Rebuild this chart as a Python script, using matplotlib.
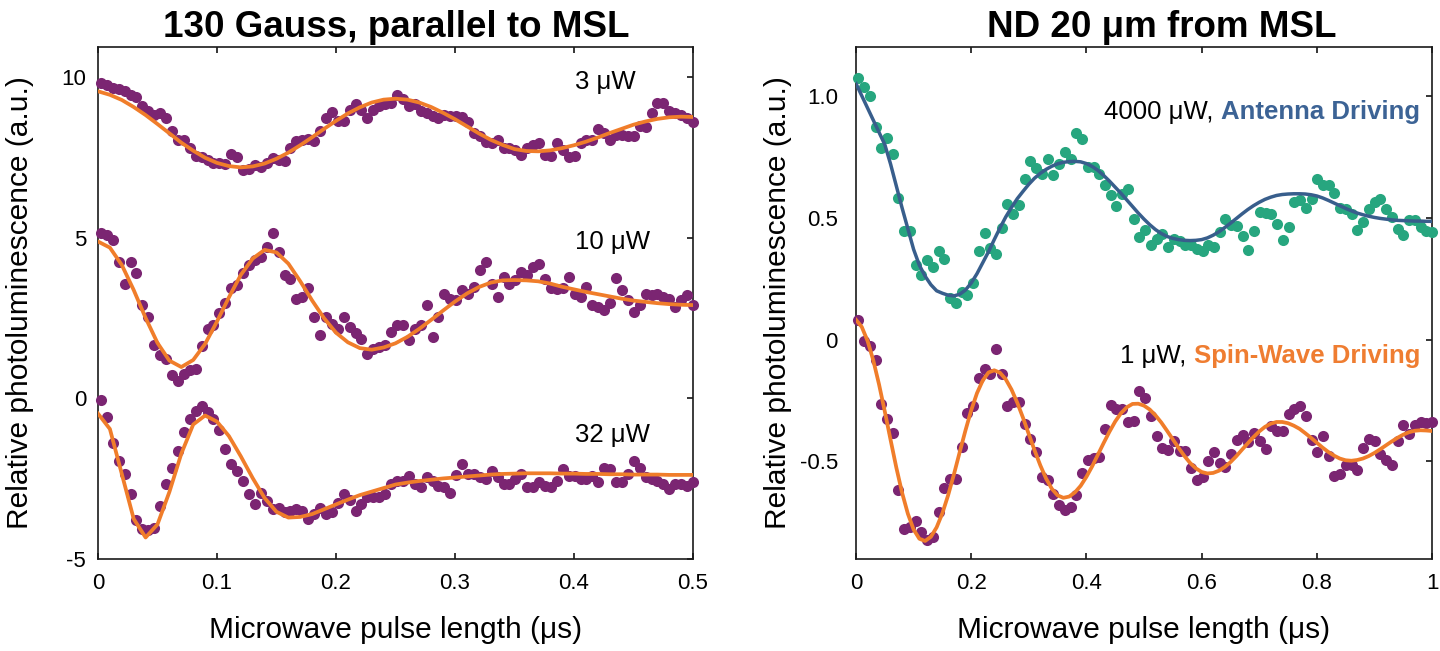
import numpy as np
import matplotlib
matplotlib.use("Agg")
from matplotlib import pyplot as plt

plt.rcParams['font.family'] = ['Liberation Sans', 'DejaVu Sans']
plt.rcParams['axes.unicode_minus'] = False

PURPLE = '#7b2572'
ORANGE = '#f07d2a'
GREEN = '#27a67f'
BLUE = '#385e8c'
BLUE_TXT = '#3c6395'
ORANGE_TXT = '#ef7d31'
MU = '\u03bc'

# ---------------- left panel: 130 Gauss, parallel to MSL ----------------
t_left = np.linspace(0.0025, 0.5, 101)
t_left_fit = np.linspace(0.0, 0.5, 51)

pl_3uw = [9.83, 9.76, 9.68, 9.63, 9.57, 9.47, 9.40, 9.10, 8.95, 8.84,
          8.88, 8.74, 8.32, 8.06, 8.05, 7.80, 7.56, 7.52, 7.42, 7.35,
          7.33, 7.31, 7.63, 7.52, 7.13, 7.15, 7.28, 7.21, 7.35, 7.49,
          7.42, 7.39, 7.80, 8.01, 8.06, 8.08, 8.01, 8.32, 8.74, 8.92,
          8.64, 8.65, 9.00, 9.16, 8.99, 8.74, 9.00, 9.10, 9.16, 9.21,
          9.45, 9.33, 9.10, 9.16, 8.95, 8.88, 8.79, 8.74, 8.84, 8.79,
          8.81, 8.77, 8.60, 8.27, 8.17, 7.98, 7.96, 8.06, 7.80, 7.80,
          7.75, 7.59, 7.80, 7.91, 7.96, 7.59, 7.56, 7.96, 7.75, 7.52,
          7.56, 7.96, 8.06, 8.06, 8.40, 8.27, 8.06, 8.22, 8.22, 8.17,
          8.19, 8.50, 8.46, 8.88, 9.21, 9.21, 8.95, 8.90, 8.84, 8.74, 8.60]
fit_3uw = [9.57, 9.46, 9.30, 9.08, 8.83, 8.55, 8.26, 7.97, 7.72, 7.50,
           7.34, 7.24, 7.20, 7.23, 7.32, 7.47, 7.66, 7.89, 8.14, 8.40,
           8.65, 8.88, 9.07, 9.22, 9.31, 9.34, 9.31, 9.22, 9.08, 8.90,
           8.70, 8.48, 8.26, 8.06, 7.90, 7.77, 7.71, 7.70, 7.73, 7.80,
           7.89, 8.00, 8.13, 8.27, 8.40, 8.53, 8.63, 8.71, 8.76, 8.78, 8.77]

pl_10uw = [5.17, 5.09, 4.94, 4.26, 3.58, 4.26, 3.90, 2.91, 2.54, 1.66,
           1.34, 1.24, 0.72, 0.56, 0.77, 0.88, 0.93, 1.63, 2.18, 2.28,
           2.65, 2.96, 3.43, 3.53, 3.90, 4.16, 4.31, 4.42, 4.73, 5.17,
           4.57, 3.84, 3.71, 3.11, 3.17, 3.43, 2.54, 1.97, 2.54, 2.33,
           2.15, 2.54, 2.23, 2.05, 1.86, 1.40, 1.55, 1.60, 1.66, 2.07,
           2.28, 2.28, 1.81, 2.18, 2.28, 2.91, 1.92, 2.54, 3.27, 3.11,
           3.06, 3.38, 3.27, 3.48, 4.00, 4.26, 3.58, 3.17, 3.79, 3.58,
           3.69, 3.95, 3.84, 4.10, 4.19, 3.71, 3.43, 3.40, 3.43, 3.77,
           3.27, 3.17, 3.48, 2.91, 2.85, 2.75, 2.96, 3.74, 3.38, 3.06,
           2.70, 2.91, 3.27, 3.22, 3.27, 3.17, 3.11, 2.85, 3.06, 3.22, 2.91]
fit_10uw = [4.89, 4.70, 4.16, 3.38, 2.51, 1.73, 1.18, 0.98, 1.20, 1.70,
            2.40, 3.15, 3.85, 4.36, 4.63, 4.55, 4.20, 3.65, 3.05, 2.50,
            2.05, 1.75, 1.57, 1.52, 1.59, 1.72, 1.92, 2.17, 2.45, 2.74,
            3.02, 3.27, 3.47, 3.61, 3.68, 3.69, 3.68, 3.65, 3.58, 3.48,
            3.40, 3.32, 3.25, 3.18, 3.11, 3.05, 3.01, 2.97, 2.94, 2.92, 2.91]

pl_32uw = [-0.06, -0.58, -1.40, -1.94, -2.35, -2.98, -3.79, -4.07, -4.10, -4.02,
           -3.34, -2.67, -2.15, -1.63, -1.05, -0.64, -0.38, -0.22, -0.43, -0.64,
           -0.98, -1.57, -2.04, -2.25, -2.56, -2.98, -3.29, -2.93, -3.19, -3.45,
           -3.40, -3.55, -3.50, -3.45, -3.50, -3.76, -3.60, -3.40, -3.60, -3.55,
           -3.24, -2.98, -3.15, -3.50, -3.29, -3.08, -3.08, -3.08, -2.98, -2.67,
           -2.56, -2.56, -2.41, -2.67, -2.77, -2.46, -2.56, -2.72, -2.77, -2.93,
           -2.38, -2.04, -2.35, -2.35, -2.46, -2.51, -2.25, -2.46, -2.67, -2.67,
           -2.51, -2.35, -2.77, -2.77, -2.61, -2.72, -2.77, -2.56, -2.20, -2.41,
           -2.41, -2.51, -2.51, -2.41, -2.61, -2.15, -2.20, -2.61, -2.61, -2.35,
           -1.94, -2.15, -2.46, -2.51, -2.56, -2.67, -2.82, -2.67, -2.67, -2.72, -2.60]
fit_32uw = [-0.47, -0.95, -2.35, -3.75, -4.33, -3.92, -2.91, -1.72, -0.81, -0.53,
            -0.72, -1.17, -1.80, -2.48, -3.10, -3.53, -3.71, -3.69, -3.60, -3.45,
            -3.30, -3.15, -3.01, -2.90, -2.79, -2.68, -2.62, -2.57, -2.53, -2.49,
            -2.46, -2.43, -2.40, -2.37, -2.35, -2.34, -2.33, -2.33, -2.33, -2.34,
            -2.34, -2.35, -2.35, -2.36, -2.36, -2.37, -2.37, -2.37, -2.38, -2.38, -2.38]

# ---------------- right panel: ND 20 um from MSL ----------------
t_right = np.linspace(0.004, 1.0, 101)
t_right_fit = np.linspace(0.0, 1.0, 101)

pl_antenna = [1.072, 1.036, 0.999, 0.872, 0.786, 0.826, 0.762, 0.581, 0.444, 0.444,
              0.305, 0.264, 0.325, 0.298, 0.362, 0.329, 0.171, 0.150, 0.195, 0.182,
              0.230, 0.362, 0.439, 0.376, 0.352, 0.459, 0.555, 0.516, 0.553, 0.657,
              0.731, 0.704, 0.680, 0.742, 0.676, 0.721, 0.769, 0.742, 0.847, 0.821,
              0.708, 0.708, 0.680, 0.633, 0.592, 0.548, 0.598, 0.619, 0.496, 0.421,
              0.448, 0.389, 0.414, 0.434, 0.380, 0.414, 0.403, 0.387, 0.389, 0.373,
              0.362, 0.389, 0.380, 0.441, 0.496, 0.469, 0.466, 0.425, 0.366, 0.444,
              0.523, 0.520, 0.516, 0.475, 0.407, 0.462, 0.564, 0.571, 0.540, 0.578,
              0.660, 0.635, 0.635, 0.602, 0.540, 0.537, 0.516, 0.448, 0.482, 0.537,
              0.564, 0.575, 0.534, 0.503, 0.452, 0.428, 0.489, 0.489, 0.462, 0.444, 0.440]
fit_antenna = [1.05, 1.00, 0.95, 0.90, 0.85, 0.80, 0.72, 0.63, 0.54, 0.455,
               0.37, 0.305, 0.26, 0.225, 0.20, 0.19, 0.182, 0.179, 0.186, 0.203,
               0.232, 0.27, 0.315, 0.36, 0.41, 0.458, 0.503, 0.542, 0.578, 0.608,
               0.637, 0.662, 0.682, 0.698, 0.711, 0.721, 0.727, 0.730, 0.731, 0.729,
               0.722, 0.710, 0.694, 0.673, 0.650, 0.625, 0.600, 0.573, 0.546, 0.519,
               0.494, 0.471, 0.451, 0.435, 0.423, 0.415, 0.410, 0.407, 0.406, 0.407,
               0.410, 0.417, 0.428, 0.442, 0.459, 0.477, 0.496, 0.515, 0.533, 0.549,
               0.563, 0.575, 0.584, 0.591, 0.595, 0.597, 0.598, 0.598, 0.597, 0.594,
               0.589, 0.581, 0.571, 0.560, 0.549, 0.538, 0.528, 0.519, 0.512, 0.506,
               0.501, 0.497, 0.494, 0.491, 0.489, 0.488, 0.487, 0.486, 0.486, 0.485, 0.485]

pl_spinwave = [0.079, -0.007, -0.026, -0.085, -0.266, -0.324, -0.383, -0.617, -0.777, -0.770,
               -0.745, -0.788, -0.822, -0.809, -0.706, -0.608, -0.570, -0.570, -0.440, -0.303,
               -0.272, -0.157, -0.119, -0.143, -0.040, -0.143, -0.272, -0.258, -0.255, -0.348,
               -0.406, -0.463, -0.563, -0.577, -0.635, -0.679, -0.699, -0.686, -0.638, -0.549,
               -0.495, -0.485, -0.481, -0.367, -0.269, -0.283, -0.283, -0.340, -0.335, -0.212,
               -0.239, -0.313, -0.395, -0.444, -0.454, -0.417, -0.458, -0.458, -0.526, -0.577,
               -0.563, -0.499, -0.463, -0.508, -0.522, -0.471, -0.413, -0.392, -0.422, -0.385,
               -0.417, -0.449, -0.354, -0.376, -0.376, -0.307, -0.283, -0.272, -0.313, -0.413,
               -0.463, -0.395, -0.477, -0.559, -0.553, -0.515, -0.515, -0.536, -0.444, -0.406,
               -0.417, -0.471, -0.495, -0.515, -0.417, -0.351, -0.389, -0.351, -0.337, -0.344, -0.340]
fit_spinwave = [0.081, 0.052, -0.005, -0.085, -0.184, -0.295, -0.411, -0.525, -0.628, -0.714,
                -0.779, -0.817, -0.826, -0.809, -0.770, -0.712, -0.638, -0.553, -0.462, -0.373,
                -0.290, -0.220, -0.168, -0.135, -0.126, -0.136, -0.163, -0.205, -0.259, -0.321,
                -0.388, -0.454, -0.516, -0.570, -0.612, -0.639, -0.649, -0.644, -0.627, -0.600,
                -0.563, -0.520, -0.472, -0.424, -0.378, -0.336, -0.302, -0.278, -0.264, -0.263,
                -0.271, -0.287, -0.311, -0.340, -0.374, -0.409, -0.444, -0.477, -0.506, -0.528,
                -0.543, -0.549, -0.547, -0.538, -0.523, -0.503, -0.479, -0.452, -0.426, -0.400,
                -0.377, -0.358, -0.345, -0.338, -0.338, -0.343, -0.353, -0.366, -0.384, -0.403,
                -0.423, -0.443, -0.461, -0.476, -0.488, -0.495, -0.497, -0.494, -0.488, -0.478,
                -0.465, -0.450, -0.434, -0.418, -0.403, -0.390, -0.380, -0.374, -0.372, -0.373, -0.375]


def style_axes(ax, xticks, xlabels, yticks, ylabels):
    ax.set_xticks(xticks)
    ax.set_xticklabels(xlabels)
    ax.set_yticks(yticks)
    ax.set_yticklabels(ylabels)
    ax.tick_params(axis='both', direction='in', length=4, width=1.1, labelsize=16,
                   top=True, right=True, left=False, bottom=True)
    ax.tick_params(axis='x', pad=10)
    for sp in ax.spines.values():
        sp.set_linewidth(1.2)
        sp.set_color('#1a1a1a')
    ax.set_xlabel('Microwave pulse length (' + MU + 's)', fontsize=21.5)
    ax.set_ylabel('Relative photoluminescence (a.u.)', fontsize=21.5)


fig = plt.figure(figsize=(14.4, 6.51), dpi=100)
ax1 = fig.add_axes([98 / 1440, 1 - 559 / 651, 595 / 1440, 512 / 651])
ax2 = fig.add_axes([856 / 1440, 1 - 559 / 651, 576 / 1440, 512 / 651])

# left panel
for pts, fit in [(pl_3uw, fit_3uw), (pl_10uw, fit_10uw), (pl_32uw, fit_32uw)]:
    ax1.plot(t_left, pts, 'o', ms=8, color=PURPLE, mec='none', clip_on=False, zorder=3)
    ax1.plot(t_left_fit, fit, '-', color=ORANGE, lw=2.7, zorder=4)

ax1.set_xlim(0, 0.5)
ax1.set_ylim(-5, 10.95)
style_axes(ax1, [0, 0.1, 0.2, 0.3, 0.4, 0.5], ['0', '0.1', '0.2', '0.3', '0.4', '0.5'],
           [-5, 0, 5, 10], ['-5', '0', '5', '10'])
ax1.tick_params(axis='y', pad=8.5)
ax1.yaxis.set_label_coords(-0.108, 0.5)
ax1.xaxis.set_label_coords(0.5, -0.112)

for label, yy in [('3 ' + MU + 'W', 9.87), ('10 ' + MU + 'W', 4.88), ('32 ' + MU + 'W', -1.14)]:
    ax1.text(0.401, yy, label, fontsize=18.5, ha='left', va='center')

# right panel
ax2.plot(t_right, pl_antenna, 'o', ms=8, color=GREEN, mec='none', clip_on=False, zorder=3)
ax2.plot(t_right_fit, fit_antenna, '-', color=BLUE, lw=2.5, zorder=4)
ax2.plot(t_right, pl_spinwave, 'o', ms=8, color=PURPLE, mec='none', clip_on=False, zorder=3)
ax2.plot(t_right_fit, fit_spinwave, '-', color=ORANGE, lw=2.7, zorder=4)

ax2.set_xlim(0, 1)
ax2.set_ylim(-0.9, 1.2)
style_axes(ax2, [0, 0.2, 0.4, 0.6, 0.8, 1.0], ['0', '0.2', '0.4', '0.6', '0.8', '1'],
           [-0.5, 0, 0.5, 1.0], ['-0.5', '0', '0.5', '1.0'])
ax2.tick_params(axis='y', pad=13)
ax2.yaxis.set_label_coords(-0.111, 0.5)
ax2.xaxis.set_label_coords(0.5, -0.112)

t1 = ax2.text(0.979, 0.934, 'Antenna Driving', color=BLUE_TXT, fontweight='bold',
              fontsize=18.5, ha='right', va='center')
ax2.annotate('4000 ' + MU + 'W, ', xy=(0, 0), xycoords=t1, fontsize=18.5,
             ha='right', va='bottom')
t2 = ax2.text(0.979, -0.066, 'Spin-Wave Driving', color=ORANGE_TXT, fontweight='bold',
              fontsize=18.5, ha='right', va='center')
ax2.annotate('1 ' + MU + 'W, ', xy=(0, 0), xycoords=t2, fontsize=18.5,
             ha='right', va='bottom')

fig.text(396 / 1440, 1 - 37 / 651, '130 Gauss, parallel to MSL', fontsize=26.5,
         fontweight='bold', ha='center', va='baseline')
fig.text(1162 / 1440, 1 - 37 / 651, 'ND 20 ' + MU + 'm from MSL', fontsize=26.5,
         fontweight='bold', ha='center', va='baseline')

fig.savefig('out.png', dpi=100)
